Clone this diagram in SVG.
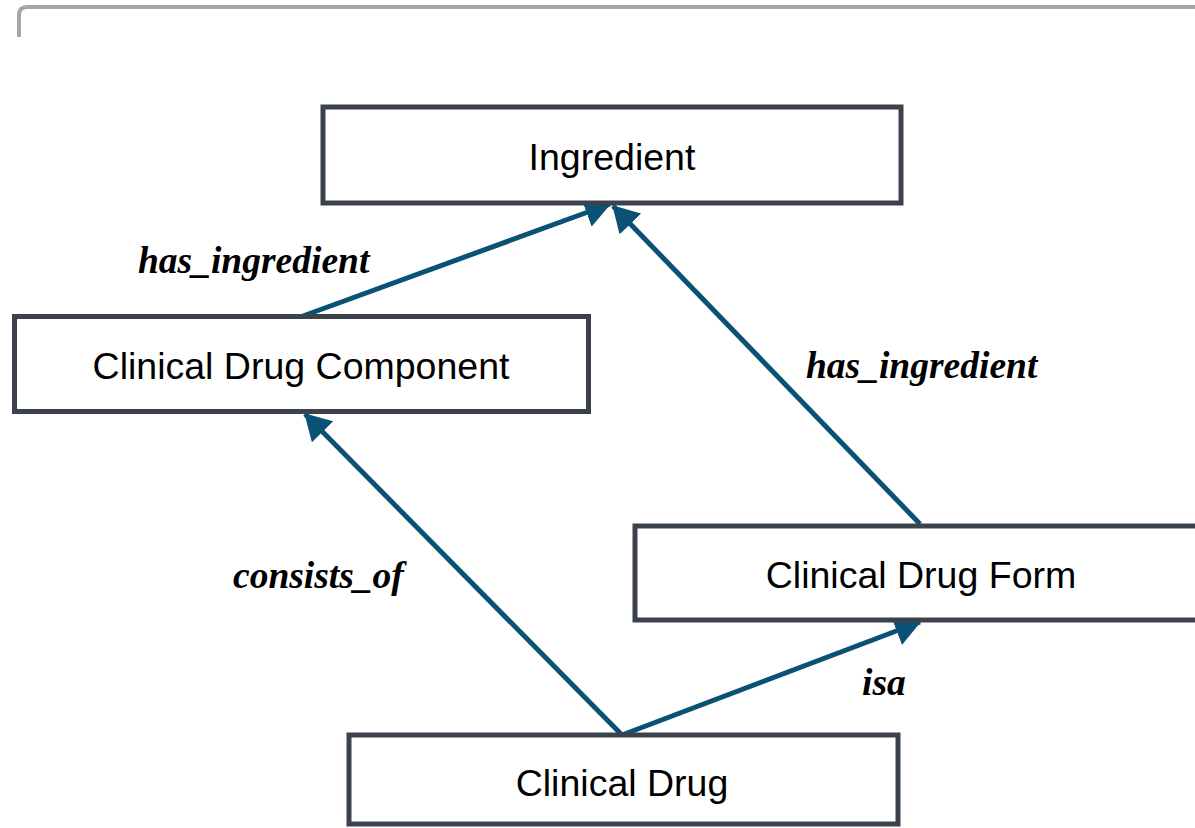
<svg xmlns="http://www.w3.org/2000/svg" width="1195" height="828" viewBox="0 0 1195 828">
  <style>
    .box { fill: #ffffff; stroke: #3c424b; stroke-width: 5; }
    .name { font-family: "Liberation Sans", Arial, sans-serif; font-size: 37.5px; fill: #000000; text-anchor: middle; }
    .rel { font-family: "Liberation Serif", "Times New Roman", serif; font-size: 37.5px; font-weight: bold; font-style: italic; fill: #000000; }
    .edge { fill: none; stroke: #0b5176; stroke-width: 5; marker-end: url(#head); }
  </style>
  <defs>
    <marker id="head" viewBox="0 0 26 30" refX="25" refY="15" markerWidth="26" markerHeight="30" markerUnits="userSpaceOnUse" orient="auto">
      <path d="M0,0 L26,15 L0,30 z" fill="#0b5176"/>
    </marker>
  </defs>

  <rect width="1195" height="828" fill="#ffffff"/>

  <!-- frame corner -->
  <path d="M19,37 V15 Q19,7 27,7 H1195" fill="none" stroke="#a6a6a6" stroke-width="4"/>

  <!-- connectors -->
  <g id="connectors">
    <line class="edge" x1="303" y1="316" x2="610" y2="204"/>
    <line class="edge" x1="920" y1="524" x2="613" y2="206"/>
    <line class="edge" x1="622" y1="735" x2="305" y2="414"/>
    <line class="edge" x1="622" y1="735" x2="920" y2="622"/>
    <text class="rel" x="138" y="273">has_ingredient</text>
    <text class="rel" x="806" y="378">has_ingredient</text>
    <text class="rel" x="233" y="588">consists_of</text>
    <text class="rel" x="862" y="695">isa</text>
  </g>

  <g id="ingredient">
    <rect class="box" x="323" y="107" width="578" height="96"/>
    <text class="name" x="612" y="170">Ingredient</text>
  </g>

  <g id="clinical-drug-component">
    <rect class="box" x="14.5" y="316.5" width="574" height="95"/>
    <text class="name" x="301" y="379">Clinical Drug Component</text>
  </g>

  <g id="clinical-drug-form">
    <rect class="box" x="635" y="526" width="600" height="94"/>
    <text class="name" x="921" y="588">Clinical Drug Form</text>
  </g>

  <g id="clinical-drug">
    <rect class="box" x="349" y="735" width="549" height="89"/>
    <text class="name" x="622" y="796">Clinical Drug</text>
  </g>
</svg>
